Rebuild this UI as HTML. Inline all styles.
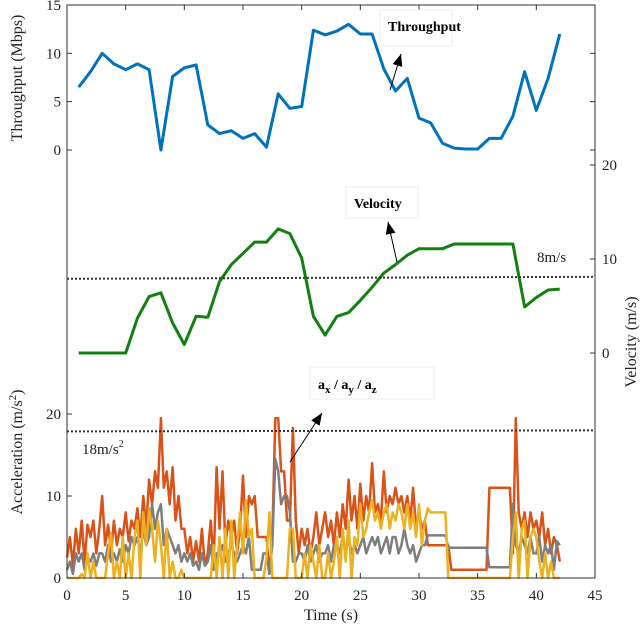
<!DOCTYPE html>
<html><head><meta charset="utf-8"><style>
body{margin:0;background:#fff;}
svg{display:block;font-family:"Liberation Serif",serif;}
</style></head><body>
<svg id="chart" width="640" height="625" viewBox="0 0 640 625" xmlns="http://www.w3.org/2000/svg">
<g id="marks"></g>
<g id="axes"></g>
</svg>
<script>
const times = [1,2,3,4,5,6,7,8,9,10,11,12,13,14,15,16,17,18,19,20,21,22,23,24,25,26,27,28,29,30,31,32,33,34,35,36,37,38,39,40,41,42];
const throughput = [6.5,8.1,10,8.9,8.3,8.9,8.3,0,7.6,8.5,8.8,2.6,1.7,2.0,1.2,1.7,0.3,5.8,4.3,4.5,12.4,11.9,12.3,13,12,12,8.4,6.1,7.4,3.3,2.8,0.7,0.2,0.1,0.1,1.2,1.2,3.5,8.1,4.1,7.4,12];
const velocity = [0,0,0,0,0,3.7,6.0,6.4,3.2,0.9,3.9,3.8,7.6,9.4,10.6,11.8,11.8,13.2,12.7,10.1,3.9,1.9,3.9,4.3,5.6,7.0,8.5,9.4,10.4,11.1,11.1,11.1,11.6,11.6,11.6,11.6,11.6,11.6,4.9,5.9,6.7,6.8];
const accStep = 0.25;
const accX = [2.5,5,1.5,6, 3,7,2,6.5, 5,7,3,6, 10,4,6.5,3, 7,4,6,5, 8,4.5,7,6, 8.5,5,10,6, 12,9,13,11, 19.5,11,13,9, 13.5,7,10,6, 6,3,5,2, 4.5,2,6,1.5, 3,7,2,13.5, 6,13,4,7, 5,7,3,6, 12.5,5,10,9, 10,5,5,5, 5,0.5,5,19.5, 19.5,13,13,7, 7,18.3,7,3, 6,4,6,3, 5,8,4,6, 8,5,7,4, 8,5,9,6, 12,7,10,6, 11.5,7,10,8, 14,8,9,7, 13,8,10,9, 11,9,10,8, 10,7,11,6, 8,6,7,4, 4,4,4,4, 4,4,4,1, 1,1,1,1, 1,1,1,1, 1,1,1,1, 11,11,11,11, 11,11,11,11, 3,19.5,8,6, 8,5,8,6, 7,5,8,4, 6,3,5,4, 2];
const accY = [1,2,0.5,3, 2,3,1,2.5, 2,3,1.5,3, 3,2,4,2, 3,2,3.5,2, 4,3,5,4, 5,3,6,4, 5,9,6,8, 9,4,6,5, 4,3,4,2, 3,2,3,1.5, 2,1,3,1.5, 2,4,1,3, 3,4,2,3, 4,3,2,3, 4,3,5,1, 1,1,1,3, 3,0.5,4,14.5, 13,9,10,10, 8,2,2,3, 3,2,4,2, 3,4,2,3, 3,4,2,4, 4,3,5,3, 5,3,4,3, 4,5,3,4, 5,4,5,3, 4,5,3,5, 5,3,4,6, 4,3,4,2, 3,4,4,5.2, 5.2,5.2,5.2,5.2, 5.2,5.2,3.7,3.7, 3.7,3.7,3.7,3.7, 3.7,3.7,3.7,3.7, 3.7,3.7,3.7,3.7, 1.3,1.3,1.3,1.3, 1.3,1.3,1.3,1.3, 9,4,3,5, 4,3,5,3, 3,5,2,4, 3,4,1,4.5, 4];
const accZ = [0,0,0,0, 0,0.5,0,3, 0,2,0,0, 0,0,3,5.5, 0,2,0,5, 0,3,0,5, 7,0,8,4, 8.5,6,2,7, 4,0,6,0, 2,0,0,1, 0,0,0,0, 0,0,0,0, 0,0,4,0, 5,0,6,0, 7,0,4,8, 3,9.5,5,6, 0,0,0,0, 2.5,8,0,0, 0,0,0,0, 6,6,0,0, 0,3,0,4, 2,0,4,0, 0,3,0,2, 5,0,6,2, 7,0,5,4, 9,5,6,8, 9.5,7,8,6, 8,9,6,8, 7,9,8,6, 9,6,8,5, 9,4,7,8.5, 8,8,8,8, 8,8,0,0, 0,0,0,0, 0,0,0,0, 0,0,0,0, 0,0,0,0, 0,0,0,0, 5,8,0,6, 7,0,5,6, 5,2,0,3, 0,2,0,0, 0];
const xTicks = [0,5,10,15,20,25,30,35,40,45];
const tpTicks = [0,5,10,15];
const velTicks = [0,10,20];
const accTicks = [0,10,20];
const velThreshold = 8;
const accThreshold = 18;

const NS = "http://www.w3.org/2000/svg";
const L = 67, R = 595, T = 5, B = 578;
const xS = t => L + t * (R - L) / 45;
const yTp = v => 150 - v * 9.67;
const yVel = v => 353 - v * 9.4;
const yAcc = v => 578 - v * 8.2;
const marks = document.getElementById('marks');
const axes = document.getElementById('axes');
function mk(tag, attrs, parent) {
  const e = document.createElementNS(NS, tag);
  for (const k in attrs) e.setAttribute(k, attrs[k]);
  parent.appendChild(e);
  return e;
}
function poly(xs, ys, color, w, name) {
  const pts = xs.map((x, i) => xS(x).toFixed(1) + ',' + ys[i].toFixed(1)).join(' ');
  const p = mk('polyline', {points: pts, fill: 'none', stroke: color, 'stroke-width': w, 'stroke-linejoin': 'round'}, marks);
  
  
}
function accSeries(arr, color, name) {
  const xs = arr.map((v, i) => i * accStep);
  poly(xs, arr.map(yAcc), color, 2.5, name);
}
accSeries(accX, '#D95319', 'accel-x-line');
accSeries(accY, '#7E7E7E', 'accel-y-line');
accSeries(accZ, '#EDB120', 'accel-z-line');
poly(times, throughput.map(yTp), '#0072BD', 3, 'throughput-line');
poly(times, velocity.map(yVel), '#12800F', 3, 'velocity-line');

// threshold lines
let th = mk('line', {x1: L, x2: R, y1: yVel(velThreshold) + 1, y2: yVel(velThreshold) - 1, stroke: '#333', 'stroke-width': 2, 'stroke-dasharray': '2,2'}, marks);


th = mk('line', {x1: L, x2: R, y1: yAcc(accThreshold) + 1, y2: yAcc(accThreshold), stroke: '#333', 'stroke-width': 2, 'stroke-dasharray': '2,2'}, marks);



// frame
const fr = mk('rect', {x: L, y: T, width: R - L, height: B - T, fill: 'none', stroke: '#333', 'stroke-width': 1}, axes);


function txt(x, y, s, attrs, name) {
  const t = mk('text', Object.assign({x: x, y: y, 'font-size': 15, fill: '#222'}, attrs || {}), axes);
  t.textContent = s;
  
  
  return t;
}
xTicks.forEach(v => {
  const x = xS(v);
  mk('line', {x1: x, x2: x, y1: B, y2: B - 5, stroke: '#333'}, axes);
  mk('line', {x1: x, x2: x, y1: T, y2: T + 5, stroke: '#333'}, axes);
  txt(x, 600, v, {'text-anchor': 'middle'}, 'x-tick-label');
});
tpTicks.forEach(v => {
  const y = yTp(v);
  mk('line', {x1: L, x2: L + 5, y1: y, y2: y, stroke: '#333'}, axes);
  mk('line', {x1: R, x2: R - 5, y1: y, y2: y, stroke: '#333'}, axes);
  txt(L - 6, y + 5, v, {'text-anchor': 'end'}, 'throughput-tick-label');
});
velTicks.forEach(v => {
  const y = yVel(v);
  mk('line', {x1: R, x2: R - 5, y1: y, y2: y, stroke: '#333'}, axes);
  txt(R + 7, y + 5, v, {'text-anchor': 'start'}, 'velocity-tick-label');
});
accTicks.forEach(v => {
  const y = yAcc(v);
  mk('line', {x1: L, x2: L + 5, y1: y, y2: y, stroke: '#333'}, axes);
  txt(L - 6, y + 5, v, {'text-anchor': 'end'}, 'accel-tick-label');
});
txt(331, 620, 'Time (s)', {'text-anchor': 'middle', 'font-size': 16}, 'x-axis-title');
txt(0, 0, 'Throughput (Mbps)', {'text-anchor': 'middle', 'font-size': 16, transform: 'translate(22,78) rotate(-90)'}, 'throughput-axis-title');
const at = txt(0, 0, 'Acceleration (m/s', {'text-anchor': 'middle', 'font-size': 16, transform: 'translate(22,452) rotate(-90)'}, 'accel-axis-title');
const sup = mk('tspan', {'font-size': 11, dy: -6}, at); sup.textContent = '2';
const cl = mk('tspan', {dy: 6}, at); cl.textContent = ')';
txt(0, 0, 'Velocity (m/s)', {'text-anchor': 'middle', 'font-size': 16, transform: 'translate(636,342) rotate(-90)'}, 'velocity-axis-title');
txt(537, 262, '8m/s', {'font-size': 15}, 'velocity-threshold-label');
const al = txt(82, 454, '18m/s', {'font-size': 15}, 'accel-threshold-label');
const s2 = mk('tspan', {'font-size': 10, dy: -7}, al); s2.textContent = '2';

// annotations
function box(x, y, w, h, name) {
  const r = mk('rect', {x: x, y: y, width: w, height: h, fill: '#fff', stroke: '#eee', 'stroke-width': 1}, axes);
  
  
}
function arrow(x1, y1, x2, y2, name) {
  const g = mk('g', {}, axes);
  
  
  mk('line', {x1: x1, y1: y1, x2: x2, y2: y2, stroke: '#000', 'stroke-width': 1}, g);
  const a = Math.atan2(y2 - y1, x2 - x1), l = 12, w = 5;
  const bx = x2 - l * Math.cos(a), by = y2 - l * Math.sin(a);
  const px = -Math.sin(a) * w, py = Math.cos(a) * w;
  mk('polygon', {points: `${x2},${y2} ${bx + px},${by + py} ${bx - px},${by - py}`, fill: '#000'}, g);
}
box(380, 10, 72, 36, 'throughput-annotation-box');
txt(388, 31, 'Throughput', {'font-size': 14, 'font-weight': 'bold', fill: '#000'}, 'throughput-annotation');
arrow(390, 90, 401, 54, 'throughput-arrow');
box(346, 187, 72, 31, 'velocity-annotation-box');
txt(354, 208, 'Velocity', {'font-size': 14, 'font-weight': 'bold', fill: '#000'}, 'velocity-annotation');
arrow(397, 262, 388, 222, 'velocity-arrow');
box(310, 367, 124, 32, 'accel-annotation-box');
const ann = txt(318, 389, '', {'font-size': 14, 'font-weight': 'bold', fill: '#000'}, 'accel-annotation');
[['a',0],['x',4],[' / a',-4],['y',4],[' / a',-4],['z',4]].forEach(p => {
  const s = mk('tspan', {dy: p[1], 'font-size': p[1] > 0 ? 11 : 14}, ann); s.textContent = p[0];
});
arrow(290, 462, 322, 413, 'accel-arrow');
</script>
</body></html>
